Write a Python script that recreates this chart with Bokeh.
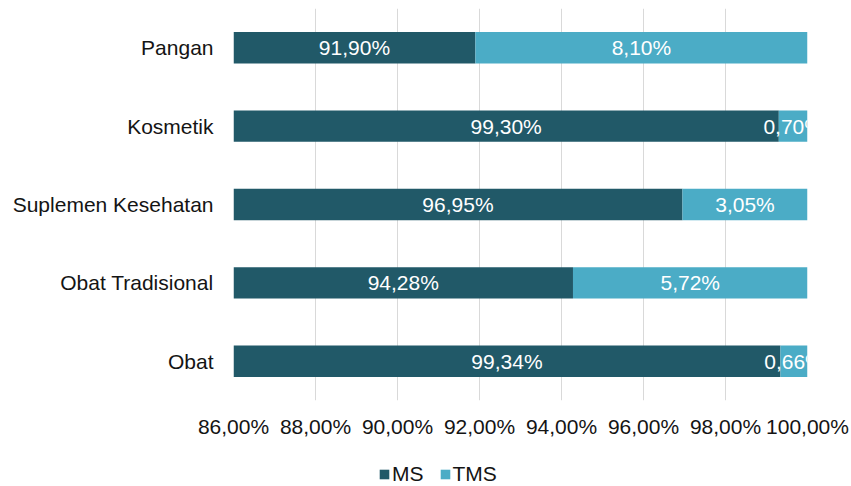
from bokeh.plotting import figure
from bokeh.models import ColumnDataSource, Range1d, FactorRange, FixedTicker, Legend, LegendItem
from bokeh.layouts import column
from bokeh.core.properties import value
from bokeh.embed import file_html
from bokeh.resources import INLINE

# ---- data ----
categories = ["Obat", "Obat Tradisional", "Suplemen Kesehatan", "Kosmetik", "Pangan"]
ms = [99.34, 94.28, 96.95, 99.30, 91.90]
tms = [0.66, 5.72, 3.05, 0.70, 8.10]
x_ticks = [86, 88, 90, 92, 94, 96, 98, 100]
x_tick_labels = ["86,00%", "88,00%", "90,00%", "92,00%", "94,00%", "96,00%", "98,00%", "100,00%"]
series_names = ["MS", "TMS"]

X_MIN, X_MAX = 86, 100
MS_COLOR = "#215968"
TMS_COLOR = "#4BACC6"
FONT = "Liberation Sans"
FS = "21px"
TXT = "#141414"
W = 851
LEG_H = 30
MAIN_H = 486 - LEG_H


def fmt(v):
    return f"{v:.2f}".replace(".", ",") + "%"


tot = [a + b for a, b in zip(ms, tms)]
src = ColumnDataSource(dict(
    cat=categories,
    ms=ms,
    tot=tot,
    ms_lab=[fmt(v) for v in ms],
    tms_lab=[fmt(v) for v in tms],
    ms_mid=[(max(X_MIN, 0) + v) / 2 for v in ms],
    tms_mid=[a + b / 2 for a, b in zip(ms, tms)],
))

p = figure(width=W, height=MAIN_H, output_backend="svg", toolbar_location=None,
           x_range=Range1d(X_MIN, X_MAX),
           y_range=FactorRange(factors=categories, range_padding=0),
           min_border_left=233, min_border_right=44, min_border_top=8,
           min_border_bottom=MAIN_H - 400)
p.outline_line_color = None
p.background_fill_color = "white"
p.border_fill_color = "white"

p.hbar(y="cat", left=0, right="ms", height=0.4, source=src,
       fill_color=MS_COLOR, line_color=None)
p.hbar(y="cat", left="ms", right="tot", height=0.4, source=src,
       fill_color=TMS_COLOR, line_color=None)

p.text(x="ms_mid", y="cat", text="ms_lab", source=src, text_color="white",
       text_align="center", text_baseline="middle",
       text_font=value(FONT), text_font_size=FS)
p.text(x="tms_mid", y="cat", text="tms_lab", source=src, text_color="white",
       text_align="center", text_baseline="middle",
       text_font=value(FONT), text_font_size=FS)

# grid
p.ygrid.grid_line_color = None
p.xgrid.grid_line_color = "#D9D9D9"
p.xgrid.grid_line_width = 1
p.xgrid.ticker = FixedTicker(ticks=x_ticks)

# x axis
xa = p.xaxis[0]
xa.ticker = FixedTicker(ticks=x_ticks)
xa.major_label_overrides = {t: l for t, l in zip(x_ticks, x_tick_labels)}
xa.axis_line_color = None
xa.major_tick_line_color = None
xa.minor_tick_line_color = None
xa.major_tick_out = 0
xa.major_label_standoff = 14
xa.major_label_text_font = FONT
xa.major_label_text_font_size = FS
xa.major_label_text_color = TXT

# y axis
ya = p.yaxis[0]
ya.axis_line_color = None
ya.major_tick_line_color = None
ya.minor_tick_line_color = None
ya.major_tick_out = 0
ya.major_label_standoff = 20
ya.major_label_text_font = FONT
ya.major_label_text_font_size = FS
ya.major_label_text_color = TXT

# ---- legend strip (swatches only; its dummy glyph lies outside the view) ----
lf = figure(width=W, height=LEG_H, output_backend="svg", toolbar_location=None,
            x_range=Range1d(0, 1), y_range=Range1d(0, 1),
            x_axis_type=None, y_axis_type=None,
            min_border_left=0, min_border_right=0, min_border_top=0, min_border_bottom=0)
lf.outline_line_color = None
lf.xgrid.grid_line_color = None
lf.ygrid.grid_line_color = None
swatch = ColumnDataSource(dict(y=[-10], l=[-10], r=[-9]))
g_ms = lf.hbar(y="y", left="l", right="r", height=1, source=swatch,
               fill_color=MS_COLOR, line_color=None)
g_tms = lf.hbar(y="y", left="l", right="r", height=1, source=swatch,
                fill_color=TMS_COLOR, line_color=None)
legend = Legend(items=[LegendItem(label=series_names[0], renderers=[g_ms]),
                       LegendItem(label=series_names[1], renderers=[g_tms])],
                orientation="horizontal", location=(145, 0),
                glyph_width=12, glyph_height=12, label_standoff=2, spacing=15,
                padding=0, margin=0, border_line_color=None, background_fill_alpha=0,
                label_text_font=FONT, label_text_font_size=FS, label_text_color=TXT)
lf.add_layout(legend, "center")

layout = column(p, lf, spacing=0)
open("out.html", "w").write(file_html(layout, INLINE))
